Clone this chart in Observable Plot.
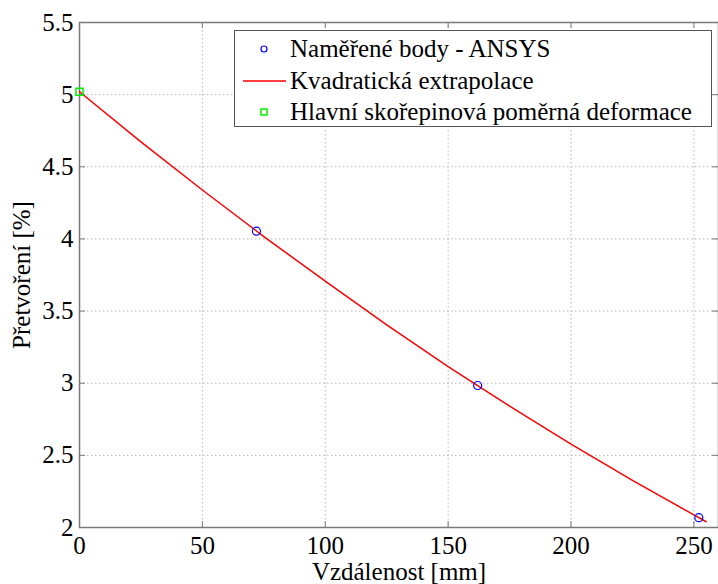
<!DOCTYPE html>
<html>
<head>
<meta charset="utf-8">
<script src="https://cdn.jsdelivr.net/npm/d3@7"></script>
<script src="https://cdn.jsdelivr.net/npm/@observablehq/plot@0.6"></script>
</head>
<body style="margin:0;padding:0;background:#fff">
<div id="wrap" style="position:relative;width:718px;height:584px;font-family:'Liberation Serif'"></div>
<script>
// Measured points (ANSYS)
const measuredX = [72, 162, 252];
const measuredY = [4.054, 2.984, 2.068];
// Quadratic extrapolation curve
const curveX = [0, 25, 50, 75, 100, 125, 150, 175, 200, 225, 250, 255];
const curveY = [5.02, 4.673, 4.339, 4.016, 3.707, 3.405, 3.115, 2.842, 2.578, 2.327, 2.087, 2.04];
// Principal shell strain
const principalX = [0];
const principalY = [5.02];
// Ticks
const xTicks = [0, 50, 100, 150, 200, 250];
const yTicks = [2, 2.5, 3, 3.5, 4, 4.5, 5, 5.5];
const xLabel = "Vzdálenost [mm]";
const yLabel = "Přetvoření [%]";
const legendLabels = ["Naměřené body - ANSYS", "Kvadratická extrapolace", "Hlavní skořepinová poměrná deformace"];

const measured = measuredX.map((x, i) => ({x, y: measuredY[i]}));
const curve = curveX.map((x, i) => ({x, y: curveY[i]}));
const principal = principalX.map((x, i) => ({x, y: principalY[i]}));

const FONT = "'Liberation Serif'";
const W = 718, H = 584, mL = 79, mR = 0, mT = 22, mB = 57;
const plotH = H - mT - mB, plotW = W - mL - mR;
const tickLen = 6;
const axisColor = "#7a7a7a";
const gridColor = "#b5b5b5";

const chart = Plot.plot({
  width: W, height: H,
  marginLeft: mL, marginRight: mR, marginTop: mT, marginBottom: mB,
  style: { fontFamily: FONT, fontSize: "25px", color: "#000", background: "#fff", overflow: "visible" },
  x: { domain: [0, 260] },
  y: { domain: [2, 5.5] },
  marks: [
    Plot.gridX(xTicks, { stroke: gridColor, strokeOpacity: 1, strokeDasharray: "1.5,2.5" }),
    Plot.gridY(yTicks, { stroke: gridColor, strokeOpacity: 1, strokeDasharray: "1.5,2.5" }),
    // inward ticks on all four sides
    Plot.tickX(xTicks, { x: d => d, stroke: axisColor, insetTop: plotH - tickLen }),
    Plot.tickX(xTicks, { x: d => d, stroke: axisColor, insetBottom: plotH - tickLen }),
    Plot.tickY(yTicks, { y: d => d, stroke: axisColor, insetRight: plotW - tickLen }),
    Plot.tickY(yTicks, { y: d => d, stroke: axisColor, insetLeft: plotW - tickLen }),
    Plot.frame({ stroke: axisColor, strokeWidth: 1.5 }),
    Plot.axisX(xTicks, { anchor: "bottom", tickSize: 0, tickPadding: 9, fontSize: 25, label: xLabel, labelAnchor: "center", labelOffset: 52, labelArrow: "none" }),
    Plot.axisY(yTicks, { anchor: "left", tickSize: 0, tickPadding: 6, fontSize: 25, label: yLabel, labelAnchor: "center", labelOffset: 67, labelArrow: "none", tickFormat: d => String(d) }),
    Plot.line(curve, { x: "x", y: "y", stroke: "red", strokeWidth: 1.5 }),
    Plot.dot(measured, { x: "x", y: "y", r: 4, stroke: "blue", strokeWidth: 1.2, fill: "none" }),
    Plot.dot(principal, { x: "x", y: "y", r: 4, symbol: "square", stroke: "#00ee00", strokeWidth: 1.5, fill: "none" })
  ]
});

const wrap = document.getElementById("wrap");
wrap.appendChild(chart);

// Legend overlay
const legend = document.createElement("div");
legend.setAttribute("style", "position:absolute;left:234px;top:30px;width:478px;height:97px;border:1px solid #555;background:#fff;box-sizing:border-box;padding-top:2px;font-family:" + FONT);
const symbols = [
  '<svg width="55" height="31.5"><circle cx="29" cy="16" r="3" fill="none" stroke="blue" stroke-width="1.2"/></svg>',
  '<svg width="55" height="31.5"><line x1="8" x2="51" y1="16" y2="16" stroke="red" stroke-width="1.5"/></svg>',
  '<svg width="55" height="31.5"><rect x="26" y="13" width="6" height="6" fill="none" stroke="#00ee00" stroke-width="1.5"/></svg>'
];
legendLabels.forEach((lab, i) => {
  const row = document.createElement("div");
  row.setAttribute("style", "position:relative;height:31.5px;line-height:31.5px;font-size:25px;color:#000;white-space:nowrap;font-family:" + FONT);
  row.innerHTML = symbols[i];
  row.firstChild.setAttribute("style", "position:absolute;left:0;top:0");
  const sp = document.createElement("span");
  sp.setAttribute("style", "position:absolute;left:55px;top:0;font-family:" + FONT);
  sp.textContent = lab;
  row.appendChild(sp);
  legend.appendChild(row);
});
wrap.appendChild(legend);

// force style/layout resolution with the serif font
const firstText = chart.querySelector("text");
void getComputedStyle(firstText).fontFamily;
void wrap.offsetHeight;
void document.fonts.check("25px " + FONT);
</script>
</body>
</html>
